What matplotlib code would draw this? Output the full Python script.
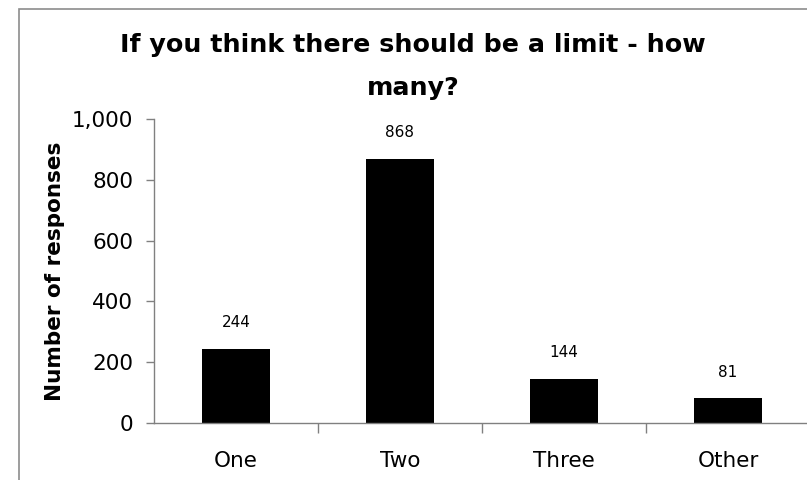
import matplotlib.pyplot as plt
from matplotlib.patches import Rectangle
from matplotlib.ticker import FuncFormatter

# survey answers
categories = ['One', 'Two', 'Three', 'Other']
responses = [244, 868, 144, 81]
yticks = [0, 200, 400, 600, 800, 1000]

plt.rcParams['font.family'] = ['DejaVu Sans']

fig = plt.figure(figsize=(8.07, 4.8), dpi=100)

# chart border (runs off the right/bottom edge in the original)
fig.patches.append(Rectangle((19 / 807, -0.1), 1.2, 1.1 - 9 / 480,
                             transform=fig.transFigure, fill=False,
                             edgecolor='#8c8c8c', lw=1.2))

ax = fig.add_axes([154 / 807, 1 - 423 / 480, 656 / 807, 304 / 480])
x = range(len(categories))
bars = ax.bar(x, responses, width=0.41, color='black')

for xi, v in zip(x, responses):
    ax.text(xi, v + 62, str(v), ha='center', va='bottom', fontsize=11)

ax.set_xlim(-0.5, len(categories) - 0.5)
ax.set_ylim(0, 1000)
ax.set_yticks(yticks)
ax.yaxis.set_major_formatter(FuncFormatter(lambda v, p: f'{int(v):,}'))
ax.set_xticks(x)
ax.set_xticklabels(categories)
ax.set_xticks([i + 0.5 for i in range(len(categories) - 1)], minor=True)

ax.tick_params(axis='y', length=6, width=1, color='#808080', labelsize=15.5, pad=9)
ax.tick_params(axis='x', which='major', length=0, labelsize=15.5, pad=20)
ax.tick_params(axis='x', which='minor', length=7, width=1, color='#808080')

for s in ['top', 'right']:
    ax.spines[s].set_visible(False)
for s in ['left', 'bottom']:
    ax.spines[s].set_color('#808080')
    ax.spines[s].set_linewidth(1)

ax.set_ylabel('Number of responses', fontsize=15.5, fontweight='bold')
ax.yaxis.set_label_coords(-0.135, 0.5)

fig.text(413 / 807, 1 - 45 / 480, 'If you think there should be a limit - how',
         ha='center', va='center', fontsize=18.3, fontweight='bold')
fig.text(413 / 807, 1 - 88 / 480, 'many?',
         ha='center', va='center', fontsize=18.3, fontweight='bold')

plt.savefig('out.png', dpi=100)
